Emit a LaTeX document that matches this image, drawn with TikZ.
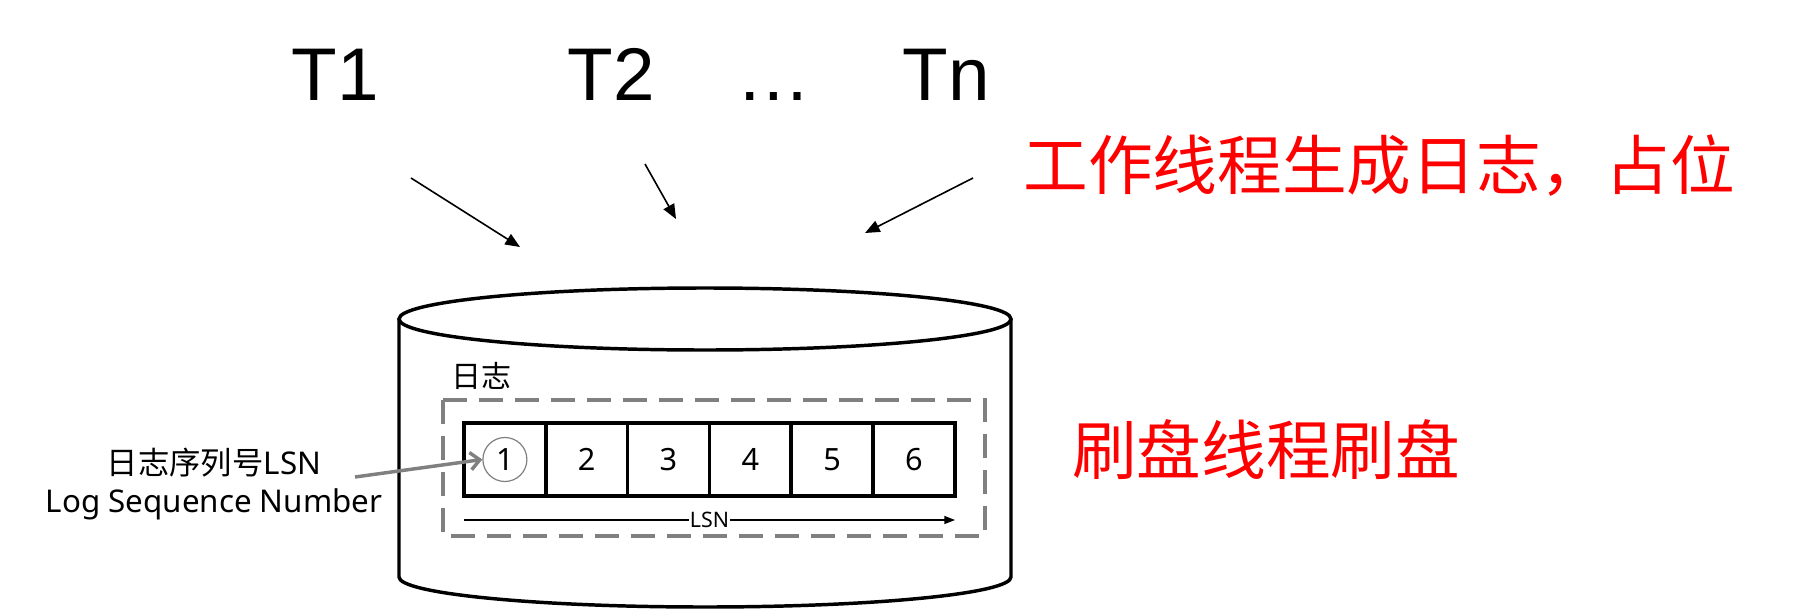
\documentclass[tikz,border=0pt]{standalone}
\usepackage{fontspec}
\setmainfont{Noto Sans}
\newfontfamily\cjk{Noto Sans CJK SC}
\newfontfamily\arialf{Liberation Sans}
\usetikzlibrary{arrows.meta}
\definecolor{myred}{RGB}{255,0,0}
\definecolor{mygray}{RGB}{128,128,128}
\begin{document}
\begin{tikzpicture}[x=0.75pt,y=-0.75pt,
  tlabel/.style={font=\arialf\fontsize{56}{60}\selectfont, anchor=base, inner sep=0pt},
  redtext/.style={font=\cjk\fontsize{48.5}{52}\selectfont, text=myred, inner sep=0pt},
  smalltext/.style={font=\fontsize{23.5}{28}\selectfont, inner sep=0pt},
  cell/.style={draw, line width=2.6pt, minimum width=61.35pt, minimum height=54.75pt, outer sep=0pt, inner sep=0pt, font=\fontsize{23}{27}\selectfont},
  tarrow/.style={line width=1.2pt, -{Triangle[length=11pt,width=9pt]}},
  heavy/.style={line width=2.6pt}
]
\useasboundingbox[fill=white] (0,0) rectangle (1810,614);

% thread labels
\node[tlabel] (t1) at (335,100) {T1};
\node[tlabel] (t2) at (611,100) {T2};
\node[tlabel] (tdots) at (774,100) {…};
\node[tlabel] (tn) at (946,100) {Tn};

% arrows from threads
\coordinate (a1s) at (411,178); \coordinate (a1e) at (520,247);
\coordinate (a2s) at (645,164); \coordinate (a2e) at (676,219);
\coordinate (a3s) at (973,178); \coordinate (a3e) at (865,233);
\draw[tarrow] (a1s) -- (a1e);
\draw[tarrow] (a2s) -- (a2e);
\draw[tarrow] (a3s) -- (a3e);

% red annotations
\node[redtext] (r1) at (1379,166) {工作线程生成日志，占位};
\node[redtext] (r2) at (1266,450) {刷盘线程刷盘};

% cylinder
\draw[heavy] (399,319) -- (399,577) arc[start angle=180, end angle=360, x radius=229.5pt, y radius=22.5pt] -- (1011,319);
\draw[heavy] (705,319) ellipse[x radius=229.5pt, y radius=23.25pt];

% log label and dashed frame
\node[smalltext, font=\cjk\fontsize{22.5}{27}\selectfont] (loglbl) at (481,376) {日志};
\draw[mygray, heavy, dash pattern=on 18pt off 9pt] (443,400) rectangle (985,536);

% cells
\node[cell] (b1) at (504.9,459.5) {1};
\node[cell] (b2) at (586.7,459.5) {2};
\node[cell] (b3) at (668.5,459.5) {3};
\node[cell] (b4) at (750.3,459.5) {4};
\node[cell] (b5) at (832.1,459.5) {5};
\node[cell] (b6) at (913.9,459.5) {6};
\node[circle, draw=mygray, line width=0.9pt, minimum size=33pt, inner sep=0pt] (c1) at (b1.center) {};

% LSN axis
\coordinate (ls) at (464,520);
\coordinate (le) at (955,520);
\draw[line width=1pt, -{Triangle[length=8pt,width=6pt]}] (ls) -- (le)
  node[midway, fill=white, inner sep=1pt, font=\fontsize{16}{18}\selectfont] (lsn) {LSN};

% left label and pointer
\node[smalltext, align=center] (lbl) at (214,484) {{\cjk 日志序列号}LSN\\Log Sequence Number};
\coordinate (gs) at (355,477);
\draw[mygray, line width=2.6pt, -{Straight Barb[length=7pt,width=13pt]}] (gs) -- (c1.west);
\end{tikzpicture}
\end{document}
